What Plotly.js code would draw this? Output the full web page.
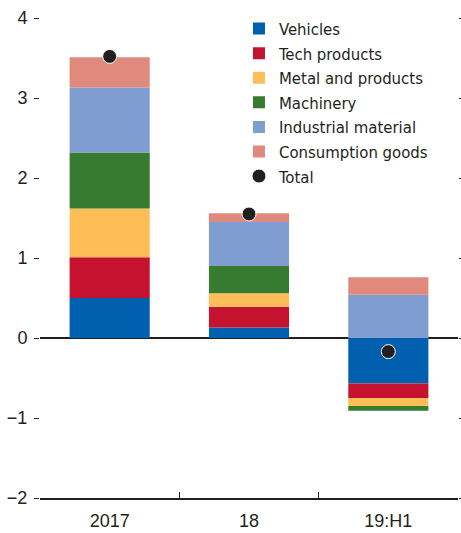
<!DOCTYPE html>
<html>
<head>
<meta charset="utf-8">
<script src="https://cdn.plot.ly/plotly-3.0.1.min.js"></script>
<style>
  html, body { margin: 0; padding: 0; background: #fff; }
  #chart { width: 461px; height: 533px; }
</style>
</head>
<body>
<div id="chart"></div>
<script>
const categories = ["2017", "18", "19:H1"];
const vehicles = [0.50, 0.13, -0.57];
const techProducts = [0.51, 0.26, -0.18];
const metalProducts = [0.61, 0.17, -0.10];
const machinery = [0.70, 0.34, -0.06];
const industrialMaterial = [0.81, 0.55, 0.54];
const consumptionGoods = [0.38, 0.11, 0.22];
const total = [3.52, 1.55, -0.17];
const yTickVals = [-2, -1, 0, 1, 2, 3, 4];

const seriesNames = ["Vehicles", "Tech products", "Metal and products", "Machinery", "Industrial material", "Consumption goods"];
const seriesValues = [vehicles, techProducts, metalProducts, machinery, industrialMaterial, consumptionGoods];
const seriesColors = ["#0060B0", "#C4122F", "#FDBE57", "#367B2F", "#7F9DD1", "#DF8A7C"];

const FONT = "'Liberation Sans', Arial, sans-serif";
const LEGFONT = "'DejaVu Sans Condensed', 'Liberation Sans', sans-serif";
const INK = "#231F20";

const traces = seriesNames.map((name, i) => ({
  type: "bar",
  name: name,
  x: categories,
  y: seriesValues[i],
  marker: { color: seriesColors[i], line: { width: 0 } },
  hoverinfo: "skip"
}));
traces.push({
  type: "scatter",
  mode: "markers",
  name: "Total",
  x: categories,
  y: total,
  marker: { color: INK, size: 14, line: { color: "#ffffff", width: 1 } },
  hoverinfo: "skip"
});

const layout = {
  width: 461,
  height: 533,
  margin: { l: 40, r: 3, t: 18, b: 35 },
  paper_bgcolor: "#ffffff",
  plot_bgcolor: "#ffffff",
  font: { family: FONT, size: 18, color: INK },
  barmode: "relative",
  bargap: 0.425,
  showlegend: true,
  legend: {
    x: 0.476, xanchor: "left",
    y: 1.014, yanchor: "top",
    traceorder: "normal",
    bgcolor: "rgba(0,0,0,0)",
    borderwidth: 0,
    font: { family: LEGFONT, size: 16.6, color: INK },
    itemclick: false
  },
  xaxis: {
    type: "category",
    showgrid: false,
    showline: true,
    linecolor: INK,
    linewidth: 1.5,
    ticks: "inside",
    tickson: "boundaries",
    ticklen: 6,
    tickcolor: INK,
    tickwidth: 1,
    ticklabelstandoff: 6,
    tickfont: { family: FONT, size: 18, color: INK },
    zeroline: false
  },
  yaxis: {
    range: [-2, 4],
    tickvals: yTickVals,
    ticktext: yTickVals.map(v => v < 0 ? "\u2212" + Math.abs(v) : String(v)),
    showgrid: false,
    showline: false,
    ticks: "outside",
    ticklen: 5,
    tickcolor: INK,
    tickwidth: 1,
    ticklabelstandoff: 3,
    mirror: "ticks",
    tickfont: { family: FONT, size: 18, color: INK },
    zeroline: true,
    zerolinecolor: INK,
    zerolinewidth: 1.5
  }
};

Plotly.newPlot("chart", traces, layout, { staticPlot: true, displayModeBar: false });
</script>
</body>
</html>
